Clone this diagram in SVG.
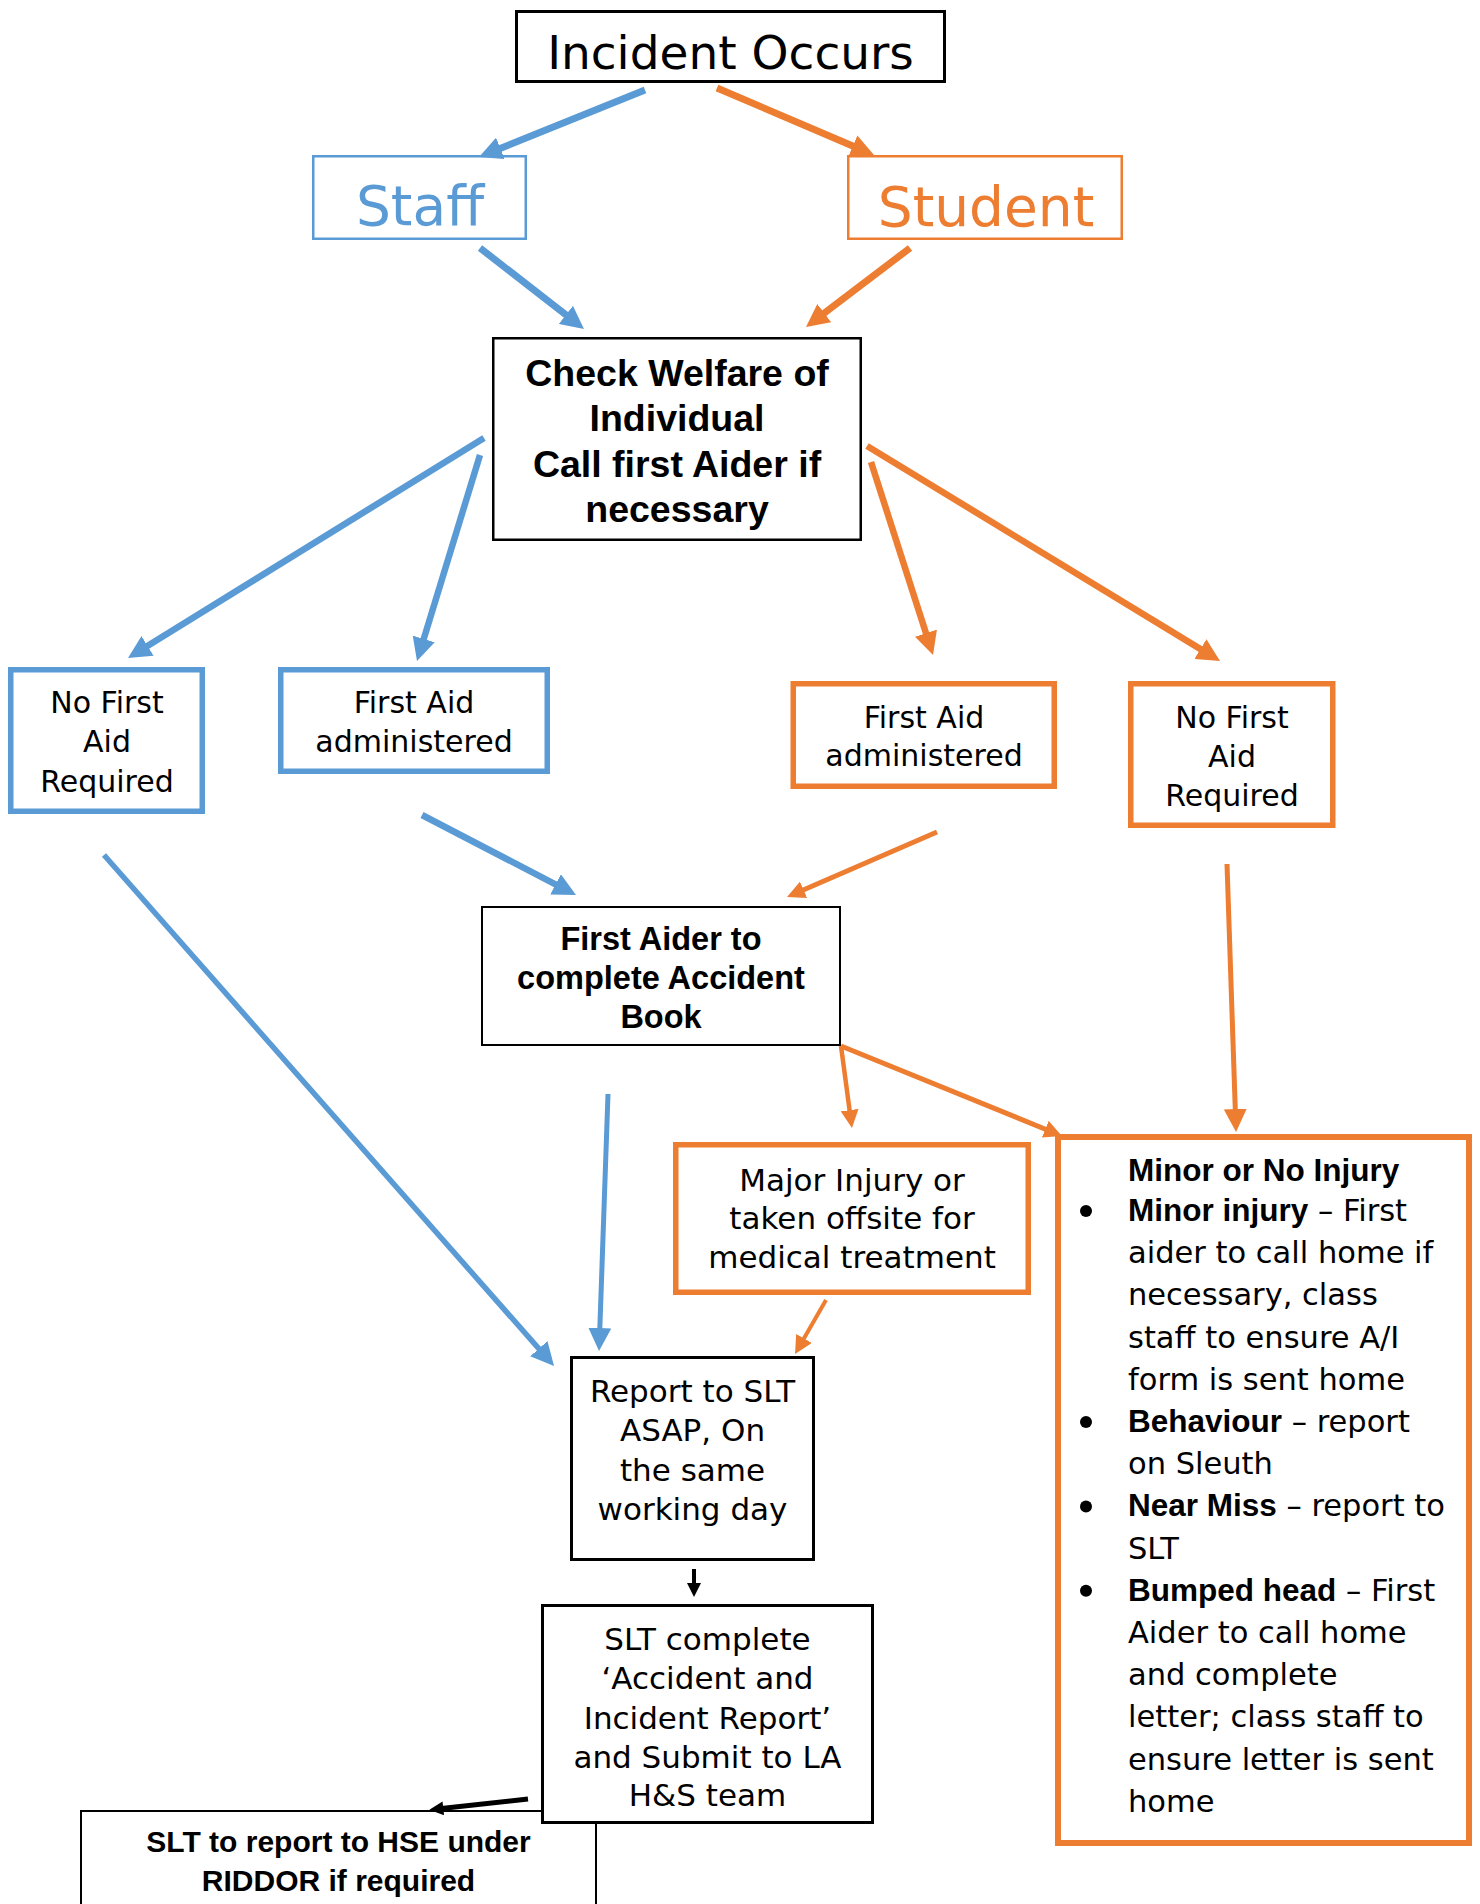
<svg xmlns="http://www.w3.org/2000/svg" width="1480" height="1904" viewBox="0 0 1480 1904">
  <style>
    .r { font-family: "DejaVu Sans", "Liberation Sans", sans-serif; fill: #000; }
    .b { font-family: "Liberation Sans", Arial, sans-serif; font-weight: bold; fill: #000; }
    .c { text-anchor: middle; }
    .box { fill: #fff; }
    .blk { stroke: #000; }
    .blu { stroke: #5B9BD5; }
    .org { stroke: #ED7D31; }
    .ln { fill: none; stroke-linecap: butt; }
  </style>
  <defs>
    <marker id="bigBlue" markerUnits="userSpaceOnUse" viewBox="0 0 10 10" markerWidth="23" markerHeight="23" refX="3" refY="5" orient="auto">
      <path d="M0,0 L10,5 L0,10 Z" fill="#5B9BD5"/>
    </marker>
    <marker id="bigOrange" markerUnits="userSpaceOnUse" viewBox="0 0 10 10" markerWidth="23" markerHeight="23" refX="3" refY="5" orient="auto">
      <path d="M0,0 L10,5 L0,10 Z" fill="#ED7D31"/>
    </marker>
    <marker id="medOrange" markerUnits="userSpaceOnUse" viewBox="0 0 10 10" markerWidth="18" markerHeight="18" refX="3" refY="5" orient="auto">
      <path d="M0,0 L10,5 L0,10 Z" fill="#ED7D31"/>
    </marker>
    <marker id="medBlack" markerUnits="userSpaceOnUse" viewBox="0 0 10 10" markerWidth="16" markerHeight="14" refX="3" refY="5" orient="auto">
      <path d="M0,0 L10,5 L0,10 Z" fill="#000"/>
    </marker>
    <marker id="smallBlack" markerUnits="userSpaceOnUse" viewBox="0 0 10 10" markerWidth="14" markerHeight="14" refX="3" refY="5" orient="auto">
      <path d="M0,0 L10,5 L0,10 Z" fill="#000"/>
    </marker>
  </defs>

  <rect width="1480" height="1904" fill="#fff"/>

  <g id="incident">
    <rect class="box blk" x="516.5" y="11.5" width="428" height="70" stroke-width="3"/>
    <text class="r c" x="730.5" y="69" font-size="47">Incident Occurs</text>
  </g>

  <g id="staff">
    <rect class="box blu" x="313.25" y="156.25" width="212.5" height="82.5" stroke-width="2.5"/>
    <text class="r c" x="420" y="225" font-size="55" style="fill:#5B9BD5">Staff</text>
  </g>

  <g id="student">
    <rect class="box org" x="848.25" y="156.25" width="273.5" height="82.5" stroke-width="2.5"/>
    <text class="r c" x="986" y="226" font-size="55" style="fill:#ED7D31">Student</text>
  </g>

  <g id="check-welfare">
    <rect class="box blk" x="493.25" y="338.25" width="367.5" height="201.5" stroke-width="2.5"/>
    <text class="b c" x="677" y="385.5" font-size="37.5">Check Welfare of</text>
    <text class="b c" x="677" y="431" font-size="37.5">Individual</text>
    <text class="b c" x="677" y="476.5" font-size="37.5">Call first Aider if</text>
    <text class="b c" x="677" y="522" font-size="37.5">necessary</text>
  </g>

  <g id="staff-no-first-aid">
    <rect class="box blu" x="10.75" y="669.75" width="191.5" height="141.5" stroke-width="5.5"/>
    <text class="r c" x="107" y="713" font-size="30">No First</text>
    <text class="r c" x="107" y="752" font-size="30">Aid</text>
    <text class="r c" x="107" y="792" font-size="30">Required</text>
  </g>

  <g id="staff-first-aid">
    <rect class="box blu" x="280.75" y="669.75" width="266.5" height="101.5" stroke-width="5.5"/>
    <text class="r c" x="414" y="713" font-size="30">First Aid</text>
    <text class="r c" x="414" y="752" font-size="30">administered</text>
  </g>

  <g id="student-first-aid">
    <rect class="box org" x="793.25" y="683.75" width="261" height="102.5" stroke-width="5.5"/>
    <text class="r c" x="924" y="727.5" font-size="30">First Aid</text>
    <text class="r c" x="924" y="766" font-size="30">administered</text>
  </g>

  <g id="student-no-first-aid">
    <rect class="box org" x="1130.75" y="683.75" width="202" height="141.5" stroke-width="5.5"/>
    <text class="r c" x="1232" y="728" font-size="30">No First</text>
    <text class="r c" x="1232" y="767" font-size="30">Aid</text>
    <text class="r c" x="1232" y="806" font-size="30">Required</text>
  </g>

  <g id="first-aider-book">
    <rect class="box blk" x="482" y="907" width="358" height="138" stroke-width="2"/>
    <text class="b c" x="661" y="950" font-size="32.5">First Aider to</text>
    <text class="b c" x="661" y="989" font-size="32.5">complete Accident</text>
    <text class="b c" x="661" y="1028" font-size="32.5">Book</text>
  </g>

  <g id="major-injury">
    <rect class="box org" x="675.75" y="1144.75" width="352.5" height="147.5" stroke-width="5.5"/>
    <text class="r c" x="852" y="1191" font-size="31">Major Injury or</text>
    <text class="r c" x="852" y="1229" font-size="31">taken offsite for</text>
    <text class="r c" x="852" y="1268" font-size="31">medical treatment</text>
  </g>

  <g id="minor-injury">
    <rect class="box org" x="1058" y="1137" width="411" height="706" stroke-width="6"/>
    <text class="b" x="1128" y="1181" font-size="31.5">Minor or No Injury</text>
    <circle cx="1086" cy="1211" r="6"/>
    <text class="r" x="1128" y="1221" font-size="30.5"><tspan class="b" font-size="31.5">Minor injury</tspan> – First</text>
    <text class="r" x="1128" y="1263.2" font-size="30.5">aider to call home if</text>
    <text class="r" x="1128" y="1305.4" font-size="30.5">necessary, class</text>
    <text class="r" x="1128" y="1347.6" font-size="30.5">staff to ensure A/I</text>
    <text class="r" x="1128" y="1389.8" font-size="30.5">form is sent home</text>
    <circle cx="1086" cy="1422" r="6"/>
    <text class="r" x="1128" y="1432" font-size="30.5"><tspan class="b" font-size="31.5">Behaviour</tspan> – report</text>
    <text class="r" x="1128" y="1474.2" font-size="30.5">on Sleuth</text>
    <circle cx="1086" cy="1506.4" r="6"/>
    <text class="r" x="1128" y="1516.4" font-size="30.5"><tspan class="b" font-size="31.5">Near Miss</tspan> – report to</text>
    <text class="r" x="1128" y="1558.6" font-size="30.5">SLT</text>
    <circle cx="1086" cy="1590.8" r="6"/>
    <text class="r" x="1128" y="1600.8" font-size="30.5"><tspan class="b" font-size="31.5">Bumped head</tspan> – First</text>
    <text class="r" x="1128" y="1643" font-size="30.5">Aider to call home</text>
    <text class="r" x="1128" y="1685.2" font-size="30.5">and complete</text>
    <text class="r" x="1128" y="1727.4" font-size="30.5">letter; class staff to</text>
    <text class="r" x="1128" y="1769.6" font-size="30.5">ensure letter is sent</text>
    <text class="r" x="1128" y="1811.8" font-size="30.5">home</text>
  </g>

  <g id="report-slt">
    <rect class="box blk" x="571.5" y="1357.5" width="242" height="202" stroke-width="3"/>
    <text class="r c" x="692.5" y="1401.5" font-size="31">Report to SLT</text>
    <text class="r c" x="692.5" y="1441" font-size="31">ASAP, On</text>
    <text class="r c" x="692.5" y="1480.5" font-size="31">the same</text>
    <text class="r c" x="692.5" y="1520" font-size="31">working day</text>
  </g>

  <g id="riddor">
    <rect class="box blk" x="81" y="1811" width="515" height="130" stroke-width="2"/>
    <text class="b c" x="338.5" y="1852" font-size="30">SLT to report to HSE under</text>
    <text class="b c" x="338.5" y="1890.5" font-size="30">RIDDOR if required</text>
  </g>

  <g id="slt-complete">
    <rect class="box blk" x="542.5" y="1605.5" width="330" height="217" stroke-width="3"/>
    <text class="r c" x="707.5" y="1650" font-size="31">SLT complete</text>
    <text class="r c" x="707.5" y="1689" font-size="31">‘Accident and</text>
    <text class="r c" x="707.5" y="1728.5" font-size="31">Incident Report’</text>
    <text class="r c" x="707.5" y="1767.5" font-size="31">and Submit to LA</text>
    <text class="r c" x="707.5" y="1806" font-size="31">H&amp;S team</text>
  </g>

  <g id="connectors" class="ln">
    <line class="blu" x1="645" y1="90" x2="494" y2="150.9" stroke-width="7" marker-end="url(#bigBlue)"/>
    <line class="org" x1="717" y1="88" x2="859.2" y2="148.7" stroke-width="7" marker-end="url(#bigOrange)"/>
    <line class="blu" x1="480" y1="248" x2="571.3" y2="319.1" stroke-width="7" marker-end="url(#bigBlue)"/>
    <line class="org" x1="910" y1="248" x2="818.8" y2="317.3" stroke-width="7" marker-end="url(#bigOrange)"/>
    <line class="blu" x1="484" y1="438" x2="141.7" y2="649.5" stroke-width="6.5" marker-end="url(#bigBlue)"/>
    <line class="blu" x1="480" y1="455" x2="421.7" y2="645.6" stroke-width="6.5" marker-end="url(#bigBlue)"/>
    <line class="org" x1="871" y1="462" x2="928.1" y2="639.7" stroke-width="6.5" marker-end="url(#bigOrange)"/>
    <line class="org" x1="867" y1="446" x2="1206.3" y2="652.6" stroke-width="6.5" marker-end="url(#bigOrange)"/>
    <line class="blu" x1="422" y1="815" x2="561.7" y2="887.6" stroke-width="6.5" marker-end="url(#bigBlue)"/>
    <line class="org" x1="937" y1="832" x2="798.6" y2="892" stroke-width="5" marker-end="url(#medOrange)"/>
    <line class="blu" x1="104" y1="855" x2="543.4" y2="1353.9" stroke-width="5.5" marker-end="url(#bigBlue)"/>
    <line class="blu" x1="608" y1="1094" x2="599.6" y2="1334.9" stroke-width="5" marker-end="url(#bigBlue)"/>
    <line class="org" x1="841" y1="1046" x2="850.3" y2="1115.5" stroke-width="4.5" marker-end="url(#medOrange)"/>
    <line class="org" x1="841" y1="1046" x2="1050.3" y2="1131.2" stroke-width="5" marker-end="url(#medOrange)"/>
    <line class="org" x1="1227" y1="864" x2="1235.5" y2="1115.9" stroke-width="5" marker-end="url(#bigOrange)"/>
    <line class="org" x1="826" y1="1300" x2="801.3" y2="1343.1" stroke-width="4" marker-end="url(#medOrange)"/>
    <line class="blk" x1="694" y1="1569" x2="694" y2="1587.2" stroke-width="4" marker-end="url(#smallBlack)"/>
    <line class="blk" x1="528" y1="1799" x2="439.1" y2="1808.8" stroke-width="5" marker-end="url(#medBlack)"/>
  </g>
</svg>
